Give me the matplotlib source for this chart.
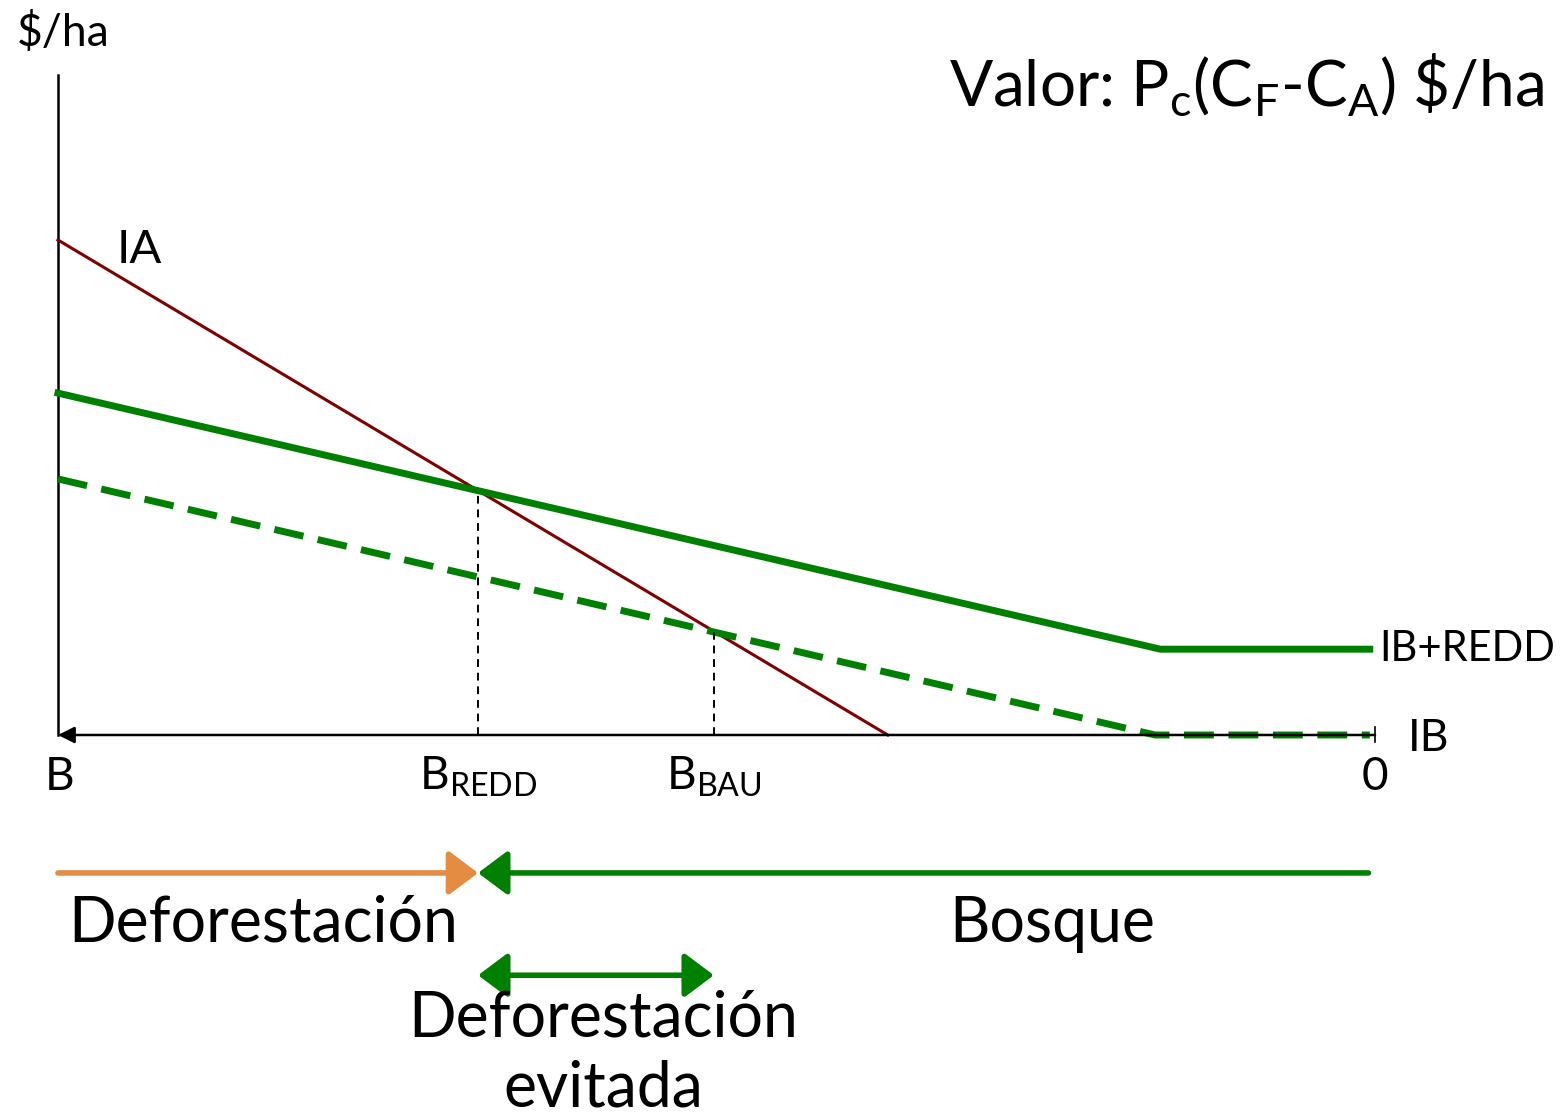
import numpy as np
import matplotlib.pyplot as plt

plt.rcParams['font.family'] = ['Lato', 'DejaVu Sans']
plt.rcParams['mathtext.fontset'] = 'custom'
plt.rcParams['mathtext.rm'] = 'Lato'

# Datos (unidades del diagrama: eje x de B=0 a 0=100)
ia_x = [0, 63.0]
ia_y = [75.0, 0.0]
redd_x = [0, 83.7, 99.6]
redd_y = [51.8, 13.0, 13.0]
ib_x = [0, 83.3, 99.6]
ib_y = [38.8, 0.0, 0.0]
x_end = 100
y_top = 100
b_redd = 31.9
b_bau = 49.8

GREEN = '#008000'
RED = '#800000'
ORANGE = '#E38C42'

fig = plt.figure(figsize=(15.68, 11.18), dpi=100)
ax = fig.add_axes([0, 0, 1, 1])
ax.set_xlim(-4.40, 114.65)
ax.set_ylim(-58.03, 111.36)
ax.axis('off')

# ejes
ax.plot([0, 0], [0, y_top], color='black', lw=1.8)
ax.annotate('', xy=(0, 0), xytext=(x_end, 0),
            arrowprops=dict(arrowstyle='-|>', color='black', lw=1.8,
                            mutation_scale=25, shrinkA=0, shrinkB=0))
ax.plot([x_end, x_end], [-1, 1.2], color='black', lw=1.2)

# curvas
ax.plot(ia_x, ia_y, color=RED, lw=2.2)
ax.plot(redd_x, redd_y, color=GREEN, lw=5)
ax.plot(ib_x, ib_y, color=GREEN, lw=5, dashes=(4.3, 2.1))

# líneas verticales en las intersecciones
y1 = np.interp(b_redd, redd_x, redd_y)
y2 = np.interp(b_bau, ib_x, ib_y)
ax.plot([b_redd, b_redd], [0, y1], color='black', lw=1.4, dashes=(4, 3))
ax.plot([b_bau, b_bau], [0, y2], color='black', lw=1.4, dashes=(4, 3))

# etiquetas
ax.text(0.4, 106.3, '$/ha', fontsize=32, ha='center', va='center')
ax.text(112.8, 98.5, r'Valor: P$_\mathrm{c}$(C$_\mathrm{F}$-C$_\mathrm{A}$) \$/ha',
        fontsize=46, ha='right', va='center')
ax.text(6.2, 73.5, 'IA', fontsize=34, ha='center', va='center')
ax.text(100.3, 13.0, 'IB+REDD', fontsize=30, ha='left', va='center')
ax.text(102.5, -0.5, 'IB', fontsize=32, ha='left', va='center')

ax.text(0.1, -6.3, 'B', fontsize=33, ha='center', va='center')
ax.text(b_redd, -6.3, r'B$_\mathrm{REDD}$', fontsize=33, ha='center', va='center')
ax.text(b_bau, -6.3, r'B$_\mathrm{BAU}$', fontsize=33, ha='center', va='center')
ax.text(x_end, -6.3, '0', fontsize=33, ha='center', va='center')

# flechas inferiores
arrow_y = -20.9
head = '-|>,head_length=0.4,head_width=0.3'
ax.annotate('', xy=(b_redd, arrow_y), xytext=(0, arrow_y),
            arrowprops=dict(arrowstyle=head, color=ORANGE, lw=4,
                            mutation_scale=45, shrinkA=0, shrinkB=0))
ax.annotate('', xy=(b_redd, arrow_y), xytext=(99.5, arrow_y),
            arrowprops=dict(arrowstyle=head, color=GREEN, lw=4,
                            mutation_scale=45, shrinkA=0, shrinkB=0))
ax.annotate('', xy=(b_bau, -36.4), xytext=(b_redd, -36.4),
            arrowprops=dict(arrowstyle='<|-|>,head_length=0.4,head_width=0.3',
                            color=GREEN, lw=4, mutation_scale=45,
                            shrinkA=0, shrinkB=0))

ax.text(15.6, -28.6, 'Deforestación', fontsize=45, ha='center', va='center')
ax.text(75.5, -28.6, 'Bosque', fontsize=45, ha='center', va='center')
ax.text(41.4, -48.3, 'Deforestación\nevitada', fontsize=45, ha='center',
        va='center', linespacing=1.25)

fig.savefig('out.png', dpi=100)
